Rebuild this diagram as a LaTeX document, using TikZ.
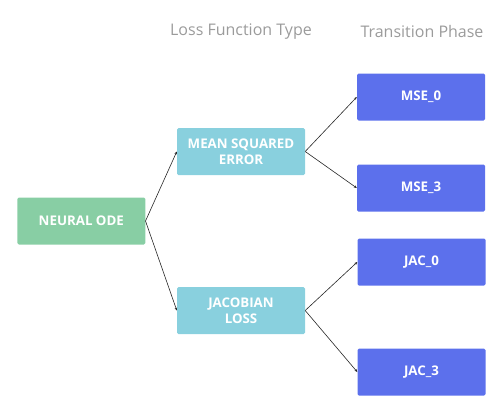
\documentclass[tikz,border=0pt]{standalone}
\usepackage{fontspec}
\setmainfont{Open Sans}
\usetikzlibrary{arrows.meta}
\definecolor{cgreen}{RGB}{136,206,164}
\definecolor{clight}{RGB}{137,208,222}
\definecolor{cdark}{RGB}{92,112,236}
\definecolor{chead}{RGB}{155,155,155}
\begin{document}
\begin{tikzpicture}[x=1pt,y=-1pt,
  box/.style={rounded corners=1.5pt, minimum width=128pt, minimum height=47pt, inner sep=0pt,
    text=white, font=\fontsize{13.3}{16.5}\selectfont\bfseries, align=center},
  gbox/.style={box, fill=cgreen},
  lbox/.style={box, fill=clight},
  dbox/.style={box, fill=cdark},
  head/.style={text=chead, font=\fontsize{16}{18}\selectfont},
  conn/.style={draw=black!85, line width=0.6pt, -{Stealth[length=3pt,width=2.5pt]}}]
\useasboundingbox (0,0) rectangle (500,405);
\node[head] (h1) at (241,32) {Loss Function Type};
\node[head] (h2) at (422,31) {Transition Phase};
\node[gbox] (ode) at (81.3,221) {NEURAL ODE};
\node[lbox] (mse) at (241,151.5) {MEAN SQUARED\\ERROR};
\node[lbox] (jac) at (241,310.5) {JACOBIAN\\LOSS};
\node[dbox] (m0) at (421,97) {MSE\_0};
\node[dbox] (m3) at (421,188) {MSE\_3};
\node[dbox] (j0) at (421.5,262) {JAC\_0};
\node[dbox] (j3) at (421.5,372) {JAC\_3};
\draw[conn] (ode.east) -- (mse.west);
\draw[conn] (ode.east) -- (jac.west);
\draw[conn] (mse.east) -- (m0.west);
\draw[conn] (mse.east) -- (m3.west);
\draw[conn] (jac.east) -- (j0.west);
\draw[conn] (jac.east) -- (j3.west);
\end{tikzpicture}
\end{document}
